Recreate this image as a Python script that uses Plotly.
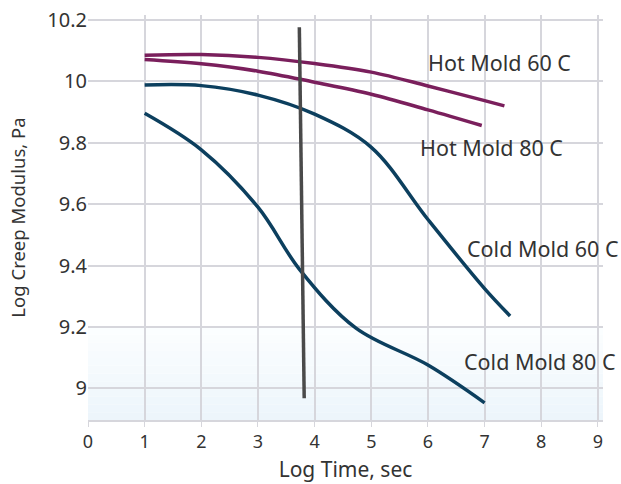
import plotly.graph_objects as go

# Data
hot60_x = [1.0, 2.0, 3.0, 4.0, 5.0, 6.0, 7.0, 7.35]
hot60_y = [10.085, 10.087, 10.078, 10.058, 10.03, 9.985, 9.937, 9.92]

hot80_x = [1.0, 2.0, 3.0, 4.0, 5.0, 6.0, 6.95]
hot80_y = [10.071, 10.057, 10.033, 9.997, 9.958, 9.907, 9.856]

cold60_x = [1.0, 2.0, 3.0, 4.0, 5.0, 6.0, 7.0, 7.45]
cold60_y = [9.988, 9.986, 9.955, 9.893, 9.785, 9.55, 9.325, 9.236]

cold80_x = [1.0, 2.0, 3.0, 3.74, 4.73, 6.0, 7.0]
cold80_y = [9.896, 9.777, 9.59, 9.386, 9.196, 9.076, 8.953]

ref_x = [3.73, 3.816]
ref_y = [10.176, 8.968]

labels = ["Hot Mold 60 C", "Hot Mold 80 C", "Cold Mold 60 C", "Cold Mold 80 C"]
label_x = [5.97, 5.82, 6.65, 6.6]
label_y = [10.06, 9.783, 9.457, 9.087]

x_ticks = [0, 1, 2, 3, 4, 5, 6, 7, 8, 9]
y_ticks = [9.0, 9.2, 9.4, 9.6, 9.8, 10.0, 10.2]
y_tick_text = ["9", "9.2", "9.4", "9.6", "9.8", "10", "10.2"]

PURPLE = "#7a1f5c"
BLUE = "#0c3f5e"
FONT = "Noto Sans"
TXT = "#333333"
GRID = "#d6d6dc"

fig = go.Figure()

for xs, ys, c in [(hot60_x, hot60_y, PURPLE), (hot80_x, hot80_y, PURPLE),
                  (cold60_x, cold60_y, BLUE), (cold80_x, cold80_y, BLUE)]:
    fig.add_trace(go.Scatter(x=xs, y=ys, mode="lines",
                             line=dict(color=c, width=3.5, shape="spline", smoothing=1.0),
                             showlegend=False, hoverinfo="skip"))

fig.add_trace(go.Scatter(x=ref_x, y=ref_y, mode="lines", line=dict(color="#4a4a4a", width=3.5),
                         showlegend=False, hoverinfo="skip"))

for t, lx, ly in zip(labels, label_x, label_y):
    fig.add_annotation(x=lx, y=ly, text=t, showarrow=False, xanchor="left", yanchor="middle",
                       font=dict(family=FONT, size=21.5, color=TXT))

# light gradient band at bottom
band_top = 9.2
band_bot = 8.897
n = 12
for i in range(n):
    y0 = band_top - (band_top - band_bot) * i / n
    y1 = band_top - (band_top - band_bot) * (i + 1) / n
    f = (i + 0.5) / n
    r = int(round(252 - (252 - 236) * f))
    g = int(round(254 - (254 - 245) * f))
    b = int(round(255 - (255 - 251) * f))
    fig.add_shape(type="rect", xref="x", yref="y", x0=0, x1=9.09, y0=y1, y1=y0,
                  fillcolor=f"rgb({r},{g},{b})", line=dict(width=0), layer="below")

fig.update_layout(
    width=621, height=484,
    margin=dict(l=88, r=18, t=15, b=64),
    plot_bgcolor="white", paper_bgcolor="white",
    font=dict(family=FONT, size=19, color=TXT),
)
fig.update_xaxes(range=[0, 9.09], tickvals=x_ticks, showgrid=True, gridcolor=GRID, gridwidth=1.5,
                 zeroline=False, showline=True, linecolor=GRID, linewidth=1.5,
                 ticks="outside", ticklen=5, tickcolor=GRID, automargin=False,
                 tickfont=dict(family=FONT, size=18, color=TXT), ticklabeloverflow="allow",
                 title=dict(text="Log Time, sec", font=dict(family=FONT, size=21, color=TXT), standoff=10))
fig.update_yaxes(range=[8.897, 10.216], tickvals=y_ticks, ticktext=y_tick_text, showgrid=True,
                 gridcolor=GRID, gridwidth=1.5, zeroline=False, showline=False, automargin=False,
                 ticks="", tickfont=dict(family=FONT, size=20, color=TXT), ticklabeloverflow="allow",
                 title=dict(text="Log Creep Modulus, Pa", font=dict(family=FONT, size=18.5, color=TXT), standoff=16))

fig.write_html("out.html", config={"displayModeBar": False},
               post_script="document.body.style.margin='0px';")
